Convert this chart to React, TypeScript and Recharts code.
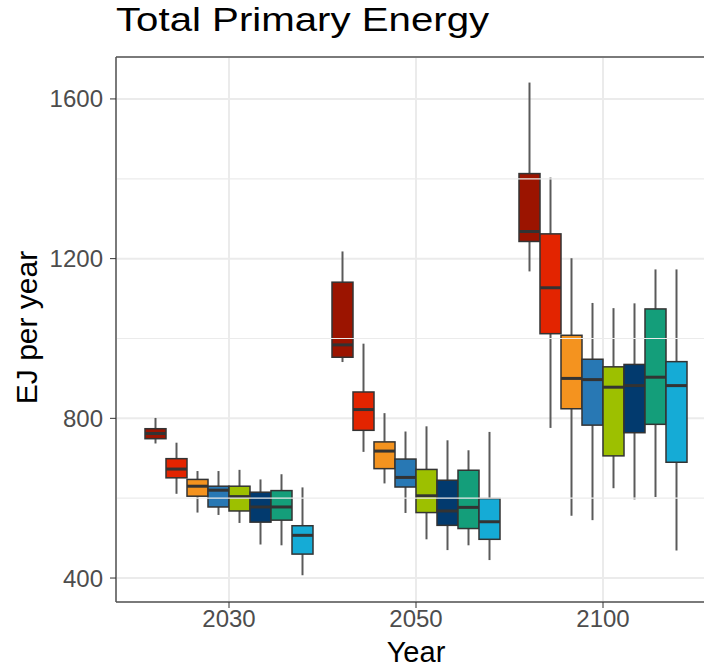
import React from 'react';
import { ComposedChart, Bar, XAxis, YAxis, CartesianGrid, ReferenceLine } from 'recharts';

const years = ['2030', '2050', '2100'];

// each entry: [min, q1, median, q3, max] for 2030, 2050, 2100
const darkRed = [[737, 749, 762, 774, 801], [941, 953, 984, 1141, 1218], [1168, 1243, 1268, 1413, 1641]];
const red = [[611, 651, 673, 699, 739], [716, 770, 822, 866, 987], [776, 1012, 1127, 1262, 1403]];
const orange = [[564, 605, 630, 647, 668], [637, 674, 718, 741, 813], [556, 824, 900, 1008, 1201]];
const blue = [[558, 578, 620, 630, 668], [563, 628, 652, 698, 767], [545, 783, 897, 948, 1089]];
const lime = [[538, 568, 604, 630, 671], [497, 564, 606, 672, 780], [625, 706, 878, 929, 1076]];
const navy = [[484, 540, 578, 615, 647], [470, 532, 568, 645, 745], [597, 764, 882, 935, 1088]];
const teal = [[482, 545, 578, 619, 660], [482, 524, 577, 670, 720], [603, 785, 903, 1074, 1173]];
const cyan = [[407, 460, 507, 531, 627], [445, 497, 541, 599, 766], [469, 690, 882, 942, 1173]];

const yTicks = [400, 800, 1200, 1600];
const minorLines = [600, 1000, 1400];
const yDomain = [340, 1705];

const series = [
  { key: 's1', stats: darkRed, color: '#9b1400' },
  { key: 's2', stats: red, color: '#e32400' },
  { key: 's3', stats: orange, color: '#f4931f' },
  { key: 's4', stats: blue, color: '#2878b4' },
  { key: 's5', stats: lime, color: '#9dc000' },
  { key: 's6', stats: navy, color: '#023a6e' },
  { key: 's7', stats: teal, color: '#149e7a' },
  { key: 's8', stats: cyan, color: '#15abd6' },
];

const data = years.map((year, i) => {
  const row: any = { year };
  series.forEach((s) => {
    row[s.key] = s.stats[i];
  });
  return row;
});

// the bar spans min..max; box, median and whiskers are placed inside it
const renderBox = (p: any, key: string, color: string) => {
  const [mn, q1, md, q3, mx] = p.payload[key];
  const top = Math.min(p.y, p.y + p.height);
  const h = Math.abs(p.height);
  const k = h / (mx - mn);
  const py = (v: number) => top + (mx - v) * k;
  const cx = p.x + p.width / 2;
  return (
    <g>
      <line x1={cx} x2={cx} y1={py(mx)} y2={py(q3)} stroke="#5a5a5a" strokeWidth={2} />
      <line x1={cx} x2={cx} y1={py(q1)} y2={py(mn)} stroke="#5a5a5a" strokeWidth={2} />
      <rect x={p.x} y={py(q3)} width={p.width} height={py(q1) - py(q3)} fill={color} stroke="#333" strokeWidth={1.5} />
      <line x1={p.x} x2={p.x + p.width} y1={py(md)} y2={py(md)} stroke="#333" strokeWidth={3} />
    </g>
  );
};

export default function App() {
  return (
    <div style={{ position: 'relative', width: 704, height: 667, overflow: 'hidden', fontFamily: '"Liberation Sans", Arial, sans-serif' }}>
      <style>{'html,body{margin:0;overflow:hidden}'}</style>
      <div
        style={{
          position: 'absolute',
          left: 116,
          top: 3,
          fontSize: 33.5,
          lineHeight: '34px',
          color: '#000',
          whiteSpace: 'nowrap',
          transform: 'scaleX(1.2)',
          transformOrigin: 'left top',
        }}
      >
        Total Primary Energy
      </div>
      <ComposedChart
        width={720}
        height={667}
        data={data}
        margin={{ top: 57, right: 4, left: 0, bottom: 0 }}
        barGap={0}
        barCategoryGap={9.5}
      >
        <CartesianGrid stroke="#ebebeb" strokeWidth={2} />
        {minorLines.map((v) => (
          <ReferenceLine key={v} y={v} stroke="#ebebeb" strokeWidth={1.2} />
        ))}
        <XAxis
          dataKey="year"
          height={65}
          padding={{ left: 19.5, right: 19.5 }}
          tick={{ fontSize: 24, fill: '#4d4d4d' }}
          tickLine={{ stroke: '#333' }}
          axisLine={{ stroke: '#555', strokeWidth: 1.5 }}
          label={{ value: 'Year', position: 'insideBottom', offset: 5, fontSize: 29, fill: '#000' }}
        />
        <YAxis
          type="number"
          width={116}
          domain={yDomain}
          ticks={yTicks}
          allowDataOverflow
          tickMargin={7}
          tick={{ fontSize: 24, fill: '#4d4d4d' }}
          tickLine={{ stroke: '#333' }}
          axisLine={{ stroke: '#555', strokeWidth: 1.5 }}
          label={{ value: 'EJ per year', angle: -90, position: 'center', dx: -32, dy: -2, fontSize: 30, fill: '#000' }}
        />
        <ReferenceLine y={yDomain[1]} stroke="#555" strokeWidth={1.5} />
        {series.map((s) => (
          <Bar
            key={s.key}
            dataKey={(row: any) => [row[s.key][0], row[s.key][4]]}
            fill={s.color}
            isAnimationActive={false}
            shape={(p: any) => renderBox(p, s.key, s.color)}
          />
        ))}
      </ComposedChart>
    </div>
  );
}
